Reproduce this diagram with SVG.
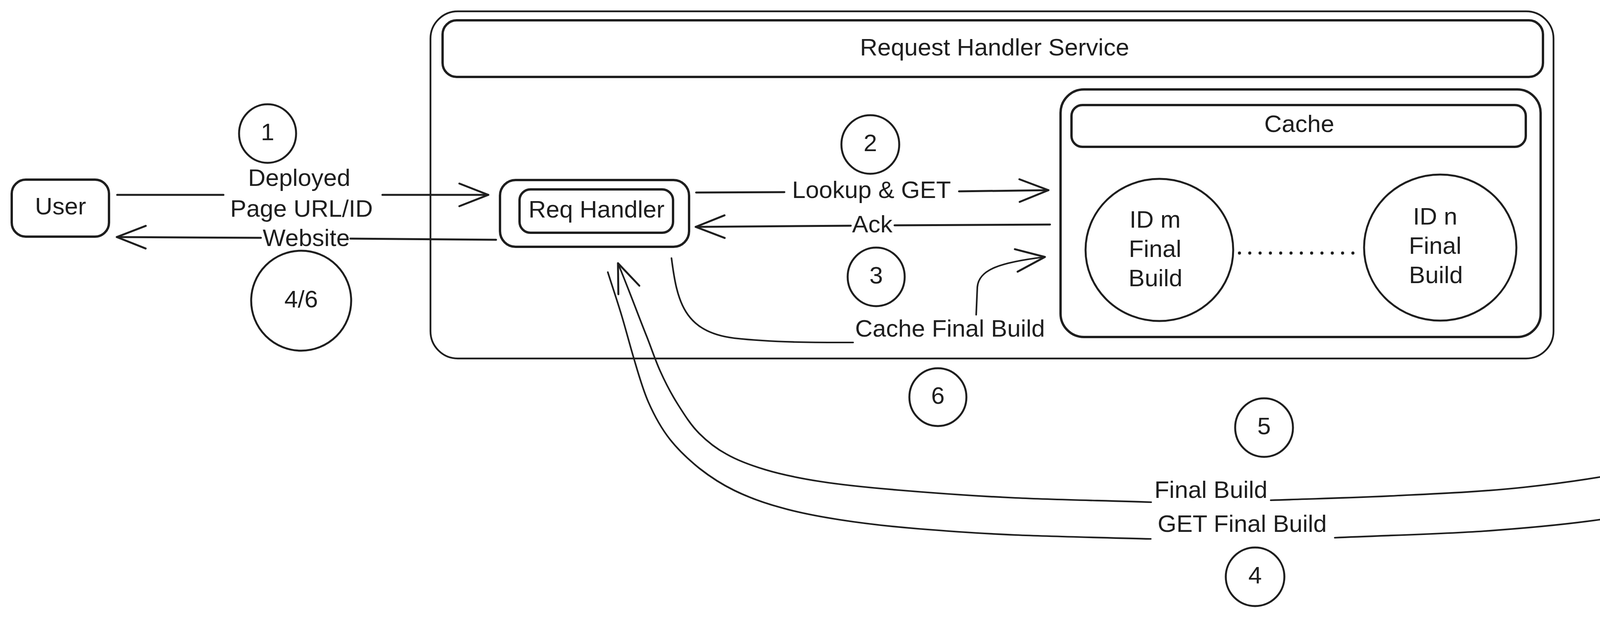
<svg xmlns="http://www.w3.org/2000/svg" width="4952" height="1580" viewBox="0 0 4952 1580">
<style>
.box{fill:none;stroke:#1e1e1e;stroke-width:6;stroke-linejoin:round}
.frame{fill:none;stroke:#1e1e1e;stroke-width:4.5;stroke-linejoin:round}
.circ{fill:none;stroke:#1e1e1e;stroke-width:5}
.ln{fill:none;stroke:#1e1e1e;stroke-width:5;stroke-linecap:round;stroke-linejoin:round}
.cv{fill:none;stroke:#1e1e1e;stroke-width:4.2;stroke-linecap:round;stroke-linejoin:round}
.dots{fill:none;stroke:#1e1e1e;stroke-width:8;stroke-linecap:round;stroke-dasharray:0 26.4}
.t{font-family:"Liberation Sans",Arial,sans-serif;font-size:62px;fill:#1e1e1e;text-anchor:middle}
</style>
<defs>
<marker id="ah" markerUnits="userSpaceOnUse" markerWidth="200" markerHeight="200" refX="0" refY="0" orient="auto" overflow="visible" viewBox="-100 -100 200 200">
<path d="M-74,-29 L0,0 L-74,29" fill="none" stroke="#1e1e1e" stroke-width="5" stroke-linecap="round" stroke-linejoin="round"/>
</marker>
</defs>
<rect width="4952" height="1580" fill="#ffffff"/>

<g id="request-handler-service">
<rect class="frame" x="1102" y="29" width="2875" height="889" rx="70"/>
</g>
<g id="service-header">
<rect class="box" x="1133" y="52" width="2817" height="145" rx="36"/>
<text class="t" x="2546" y="142">Request Handler Service</text>
</g>
<g id="cache">
<rect class="box" x="2715" y="229" width="1229" height="634" rx="60"/>
</g>
<g id="cache-header">
<rect class="box" x="2743" y="269" width="1163" height="107" rx="28"/>
<text class="t" x="3326" y="338">Cache</text>
</g>
<g id="id-m">
<ellipse class="circ" cx="2968" cy="640" rx="189" ry="182"/>
<text class="t" x="2957" y="583">ID m</text>
<text class="t" x="2957" y="658">Final</text>
<text class="t" x="2958" y="733">Build</text>
</g>
<g id="id-n">
<ellipse class="circ" cx="3687" cy="634" rx="195" ry="187"/>
<text class="t" x="3674" y="575">ID n</text>
<text class="t" x="3674" y="650">Final</text>
<text class="t" x="3676" y="725">Build</text>
</g>
<g id="req-handler">
<rect class="box" x="1280" y="461" width="484" height="171" rx="40"/>
<rect class="box" x="1330" y="485" width="393" height="111" rx="28"/>
<text class="t" x="1527" y="557">Req Handler</text>
</g>
<g id="user">
<rect class="box" x="30" y="460" width="249" height="146" rx="36"/>
<text class="t" x="155" y="549">User</text>
</g>
<g id="storage">
<rect class="box" x="4379" y="453" width="545" height="184" rx="44"/>
<text class="t" x="4651" y="526">AWS S3/</text>
<text class="t" x="4651" y="600">Cloudflare R2</text>
</g>

<g id="step-1"><ellipse class="circ" cx="685" cy="342" rx="73" ry="75"/><text class="t" x="685" y="359">1</text></g>
<g id="step-2"><ellipse class="circ" cx="2228" cy="370" rx="74" ry="75"/><text class="t" x="2228" y="387">2</text></g>
<g id="step-3"><ellipse class="circ" cx="2243" cy="709" rx="73" ry="75"/><text class="t" x="2243" y="726">3</text></g>
<g id="step-4-6"><ellipse class="circ" cx="771" cy="770" rx="128" ry="128"/><text class="t" x="771" y="787">4/6</text></g>
<g id="step-6"><ellipse class="circ" cx="2401" cy="1017" rx="73" ry="74"/><text class="t" x="2401" y="1034">6</text></g>
<g id="step-5"><ellipse class="circ" cx="3236" cy="1095" rx="74" ry="75"/><text class="t" x="3236" y="1112">5</text></g>
<g id="step-4"><ellipse class="circ" cx="3213" cy="1477" rx="75" ry="75"/><text class="t" x="3213" y="1494">4</text></g>

<g id="connectors">
<path class="ln" d="M300,499 L572,499 M979,499 L1250,499" marker-end="url(#ah)"/>
<text class="t" x="766" y="476">Deployed</text>
<text class="t" x="772" y="555">Page URL/ID</text>

<path class="ln" d="M1270,614 L897,611 M668,609 L299,607" marker-end="url(#ah)"/>
<text class="t" x="784" y="630">Website</text>

<path class="ln" d="M1782,493 L2008,492 M2455,490 L2684,487" marker-end="url(#ah)"/>
<text class="t" x="2231" y="507">Lookup &amp; GET</text>

<path class="ln" d="M2688,575 L2290,577 M2178,578 L1781,581" marker-end="url(#ah)"/>
<text class="t" x="2233" y="595">Ack</text>

<path class="cv" d="M1719,661 C1733,770 1750,850 1880,866 C1990,878 2100,877 2184,877 M2499,806 L2502,735 C2506,690 2560,672 2675,658" marker-end="url(#ah)"/>
<text class="t" x="2432" y="862">Cache Final Build</text>

<path class="cv" d="M1556,697 C1568,735 1581,773 1592,810 C1603,847 1612,882 1623,919 C1634,956 1645,996 1660,1030 C1675,1064 1693,1097 1715,1125 C1737,1153 1763,1177 1790,1199 C1818,1221 1845,1239 1880,1256 C1915,1273 1955,1288 2000,1300 C2045,1313 2092,1322 2150,1331 C2208,1340 2275,1348 2350,1354 C2425,1360 2501,1366 2600,1370 C2699,1374 2831,1377 2946,1380 M3417,1377 C3545,1371 3686,1368 3800,1360 C3914,1352 4011,1343 4100,1330 C4189,1317 4265,1304 4333,1280 C4401,1256 4461,1228 4510,1187 C4559,1147 4599,1092 4627,1037 C4655,982 4662,914 4680,857 C4698,800 4717,748 4735,693" marker-end="url(#ah)"/>
<text class="t" x="3180" y="1362">GET Final Build</text>

<path class="cv" d="M4584,685 C4573,723 4562,763 4552,800 C4542,838 4539,874 4527,910 C4515,946 4500,983 4480,1015 C4460,1047 4440,1077 4410,1103 C4380,1129 4342,1154 4300,1172 C4258,1190 4227,1197 4160,1210 C4093,1223 3993,1238 3900,1248 C3807,1258 3708,1263 3600,1268 C3492,1274 3369,1277 3253,1281 M2947,1286 C2831,1282 2708,1280 2600,1275 C2492,1270 2383,1262 2300,1255 C2217,1248 2157,1242 2100,1233 C2043,1224 2000,1215 1960,1203 C1920,1191 1888,1179 1860,1163 C1832,1148 1811,1131 1790,1110 C1769,1089 1752,1062 1735,1035 C1718,1008 1703,979 1690,950 C1677,921 1667,890 1655,860 C1643,830 1632,801 1620,770 C1608,739 1595,706 1582,674" marker-end="url(#ah)"/>
<text class="t" x="3100" y="1275">Final Build</text>

<path class="dots" d="M3173,648 L3464,648"/>
</g>
</svg>
